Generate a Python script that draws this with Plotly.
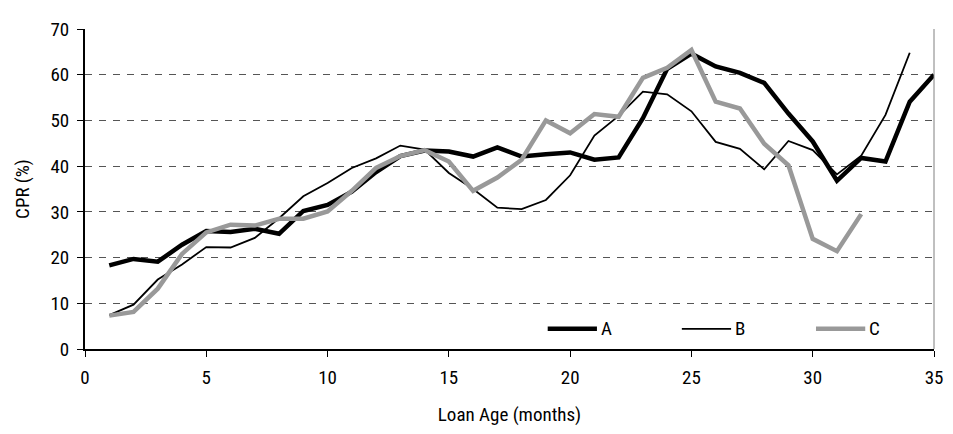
import plotly.graph_objects as go

loan_age_a = list(range(1, 36))
cpr_a = [18.3, 19.7, 19.1, 22.8, 25.8, 25.6, 26.3, 25.2, 30.2, 31.5, 34.4, 38.7, 42.2, 43.4, 43.2,
         42.1, 44.1, 42.1, 42.6, 43.0, 41.4, 41.9, 50.5, 61.3, 64.6, 61.8, 60.4, 58.2, 51.5, 45.4,
         36.8, 41.8, 41.0, 54.1, 60.0]

loan_age_b = list(range(1, 35))
cpr_b = [7.4, 9.7, 15.2, 18.5, 22.3, 22.2, 24.3, 28.6, 33.4, 36.3, 39.6, 41.7, 44.5, 43.6, 38.5,
         35.0, 30.9, 30.6, 32.6, 38.0, 46.7, 51.0, 56.3, 55.7, 52.0, 45.3, 43.8, 39.3, 45.5, 43.5,
         38.2, 42.3, 51.2, 64.8]

loan_age_c = list(range(1, 33))
cpr_c = [7.3, 8.1, 13.2, 20.8, 25.5, 27.2, 27.0, 28.5, 28.5, 30.1, 34.6, 39.6, 42.2, 43.5, 41.0,
         34.6, 37.5, 41.4, 50.0, 47.2, 51.4, 50.8, 59.3, 61.5, 65.4, 54.1, 52.6, 44.9, 40.2, 24.1,
         21.4, 29.5]

x_ticks = [0, 5, 10, 15, 20, 25, 30, 35]
y_ticks = [0, 10, 20, 30, 40, 50, 60, 70]
series_names = ["A", "B", "C"]

FONT = "Liberation Sans Narrow, Arial Narrow, Roboto Condensed, Liberation Sans, sans-serif"
colors = ["#000000", "#000000", "#999999"]
widths = [4.5, 1.8, 4.5]

fig = go.Figure()
for name, xs, ys, c, w in zip(series_names, [loan_age_a, loan_age_b, loan_age_c],
                              [cpr_a, cpr_b, cpr_c], colors, widths):
    fig.add_trace(go.Scatter(x=xs, y=ys, mode="lines", name=name,
                             line=dict(color=c, width=w), showlegend=False))

# legend drawn in paper space
legend_x = [0.545, 0.703, 0.861]
for name, lx, c, w in zip(series_names, legend_x, colors, widths):
    fig.add_shape(type="line", xref="paper", yref="paper", x0=lx, x1=lx + 0.058,
                  y0=0.063, y1=0.063, line=dict(color=c, width=w))
    fig.add_annotation(xref="paper", yref="paper", x=lx + 0.060, y=0.063, text=name,
                       showarrow=False, xanchor="left", yanchor="middle",
                       font=dict(family=FONT, size=19, color="#000"))

# right border
fig.add_shape(type="line", xref="paper", yref="paper", x0=1, x1=1, y0=0, y1=1,
              line=dict(color="#808080", width=1))

fig.update_layout(
    width=945, height=426,
    margin=dict(l=77, r=18, t=10, b=85),
    paper_bgcolor="white", plot_bgcolor="white",
    font=dict(family=FONT, size=19, color="#000"),
    xaxis=dict(range=[0, 35], tickvals=x_ticks, showgrid=False, zeroline=False,
               showline=True, linecolor="#000", linewidth=2,
               ticks="outside", ticklen=6, tickcolor="#000", tickwidth=1,
               title=dict(text="Loan Age (months)", font=dict(size=19), standoff=20),
               tickfont=dict(size=19), ticklabelstandoff=4, ticklabeloverflow="allow"),
    yaxis=dict(range=[0, 70], tickvals=y_ticks, showgrid=True, gridcolor="#555555",
               gridwidth=1, griddash="7px,7px", zeroline=False,
               showline=True, linecolor="#000", linewidth=2,
               ticks="outside", ticklen=6, tickcolor="#000", tickwidth=1,
               title=dict(text="CPR (%)", font=dict(size=19), standoff=16),
               tickfont=dict(size=19), ticklabelstandoff=4, ticklabeloverflow="allow"),
)

fig.write_html("out.html")
